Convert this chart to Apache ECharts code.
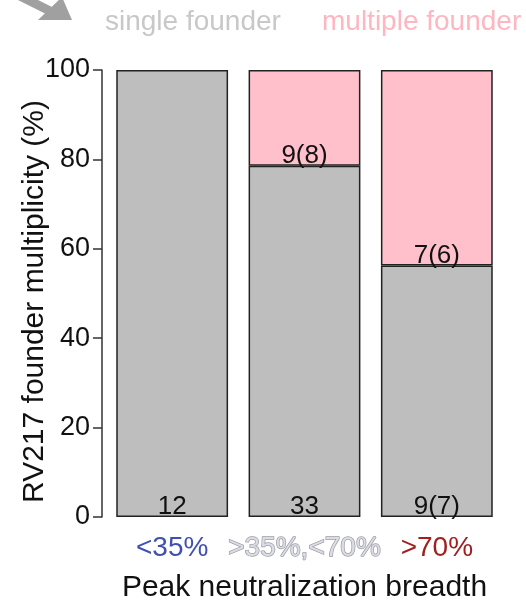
<!DOCTYPE html>
<html>
<head>
<meta charset="utf-8">
<script src="https://cdn.jsdelivr.net/npm/echarts@6/dist/echarts.min.js"></script>
<style>
  html, body { margin: 0; padding: 0; background: #fff; }
  #chart { width: 526px; height: 605px; }
</style>
</head>
<body>
<div id="chart"></div>
<script>
// Breadth groups on the x axis
const categories = ['<35%', '>35%,<70%', '>70%'];
// Series names, also written as the key above the plot
const seriesNames = ['single founder', 'multiple founder'];
// Number of participants with a single / multiple founder virus
const singleCounts = [12, 33, 9];
const multipleCounts = [0, 9, 7];
// Labels drawn inside each segment (count, with subset count in brackets)
const singleLabels = ['12', '33', '9(7)'];
const multipleLabels = ['', '9(8)', '7(6)'];
const yTicks = [0, 20, 40, 60, 80, 100];

const totals = singleCounts.map((s, i) => s + multipleCounts[i]);
const singlePct = singleCounts.map((s, i) => 100 * s / totals[i]);
// empty segments are left out so no zero-height box is drawn
const multiplePct = multipleCounts.map((m, i) => m > 0 ? 100 * m / totals[i] : '-');

const FONT = 'Liberation Sans, Arial, sans-serif';
const catColors = ['#4050b0', '#dcdce4', '#a02020'];
const keyColors = ['#c8c8c8', '#ffb6c1'];

const chart = echarts.init(document.getElementById('chart'), null, { renderer: 'canvas' });

chart.setOption({
  animation: false,
  backgroundColor: '#fff',
  textStyle: { fontFamily: FONT },
  grid: { left: 106, right: 23, top: 70, bottom: 88, outerBoundsMode: 'none' },
  xAxis: {
    type: 'category',
    data: categories,
    name: 'Peak neutralization breadth',
    nameLocation: 'middle',
    nameGap: 56,
    nameMoveOverlap: false,
    nameTextStyle: { fontSize: 30, color: '#111', fontFamily: FONT },
    axisLine: { show: false },
    axisTick: { show: false },
    axisLabel: {
      interval: 0,
      margin: 17,
      fontSize: 28,
      fontFamily: FONT,
      formatter: (v, i) => '{c' + i + '|' + v + '}',
      rich: {
        c0: { color: catColors[0], fontSize: 28, fontFamily: FONT },
        c1: { color: catColors[1], fontSize: 28, fontFamily: FONT, textBorderColor: '#9c9ca6', textBorderWidth: 1.4 },
        c2: { color: catColors[2], fontSize: 28, fontFamily: FONT }
      }
    }
  },
  yAxis: {
    type: 'value',
    min: 0, max: 100, interval: 20,
    offset: 4,
    name: 'RV217 founder multiplicity (%)',
    nameLocation: 'middle',
    nameGap: 52,
    nameMoveOverlap: false,
    nameTextStyle: { fontSize: 30, color: '#111', fontFamily: FONT, padding: [0, 16, 0, 0] },
    axisLine: { show: true, lineStyle: { color: '#333', width: 1.5 } },
    axisTick: { show: true, length: 9, lineStyle: { color: '#333', width: 1.5 } },
    axisLabel: {
      margin: 12, fontSize: 27, color: '#111', fontFamily: FONT,
      formatter: v => yTicks.includes(v) ? String(v) : ''
    },
    splitLine: { show: false }
  },
  series: [
    {
      name: seriesNames[0],
      type: 'bar',
      stack: 'founders',
      barCategoryGap: '15.5%',
      data: singlePct,
      itemStyle: { color: '#bebebe', borderColor: '#222', borderWidth: 1.5 },
      label: {
        show: true, position: 'insideBottom', distance: -3,
        fontSize: 26, color: '#111', fontFamily: FONT,
        formatter: p => singleLabels[p.dataIndex]
      }
    },
    {
      name: seriesNames[1],
      type: 'bar',
      stack: 'founders',
      data: multiplePct,
      itemStyle: { color: '#ffc0cb', borderColor: '#222', borderWidth: 1.5 },
      label: {
        show: true, position: 'insideBottom', distance: -3,
        fontSize: 26, color: '#111', fontFamily: FONT,
        formatter: p => multipleLabels[p.dataIndex]
      }
    }
  ],
  graphic: [
    // key above the plot
    {
      type: 'text', left: 105, top: 8,
      style: { text: seriesNames[0], fill: keyColors[0], font: '28px ' + FONT }
    },
    {
      type: 'text', left: 322, top: 8,
      style: { text: seriesNames[1], fill: keyColors[1], font: '28px ' + FONT }
    },
    // pointer arrow in the corner
    {
      type: 'line',
      shape: { x1: 8, y1: -10, x2: 50, y2: 11 },
      style: { stroke: '#a0a0a0', lineWidth: 9 }
    },
    {
      type: 'polygon',
      shape: { points: [[72, 20], [38, 20], [62, -3]] },
      style: { fill: '#a0a0a0' }
    }
  ]
});
</script>
</body>
</html>
